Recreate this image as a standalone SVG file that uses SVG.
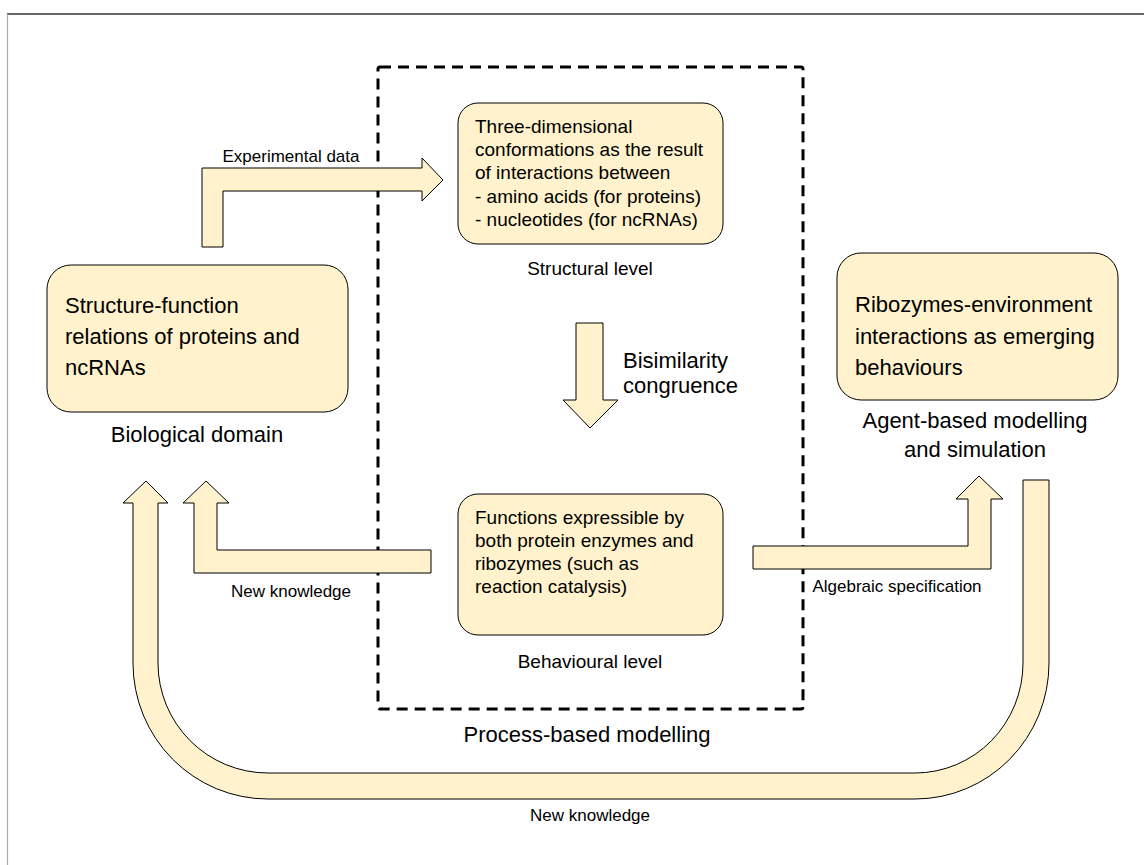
<svg xmlns="http://www.w3.org/2000/svg" width="1144" height="865" viewBox="0 0 1144 865">
  <style>
    .box { fill: #FFF2CC; stroke: #000; stroke-width: 1; }
    .arrow { fill: #FFF2CC; stroke: #000; stroke-width: 1; stroke-linejoin: miter; }
    .t { font-family: "Liberation Sans", Arial, sans-serif; fill: #000; }
    .big { font-size: 22px; }
    .mid { font-size: 19px; }
    .small { font-size: 17px; }
    .frame-top { stroke: #333; stroke-width: 1.5; }
    .frame-left { stroke: #aaa; stroke-width: 1.2; }
  </style>
  <rect x="0" y="0" width="1144" height="865" fill="#fff"/>
  <!-- page frame -->
  <line class="frame-top" x1="7" y1="14" x2="1144" y2="14"/>
  <line class="frame-left" x1="7.5" y1="14" x2="7.5" y2="865"/>

  <!-- process-based modelling container -->
  <g id="process-container">
    <rect x="378" y="67" width="425" height="642" rx="2" fill="none" stroke="#000" stroke-width="3" stroke-dasharray="11,7"/>
    <text class="t big" x="587" y="742" text-anchor="middle">Process-based modelling</text>
  </g>

  <g id="connectors">
    <!-- Experimental data -->
    <path class="arrow" d="M202,247 L202,168 L422,168 L422,158 L443,180 L422,201 L422,191 L223,191 L223,247 Z"/>
    <text class="t small" x="291" y="162" text-anchor="middle">Experimental data</text>
    <!-- Bisimilarity congruence -->
    <path class="arrow" d="M576,323 L603,323 L603,400 L618,400 L590,428 L563,400 L576,400 Z"/>
    <text class="t big" x="623" y="368">Bisimilarity</text>
    <text class="t big" x="623" y="393">congruence</text>
    <!-- New knowledge (short) -->
    <path class="arrow" d="M206,481 L229,503 L217,503 L217,550 L431,550 L431,573 L194,573 L194,503 L183,503 Z"/>
    <text class="t small" x="291" y="597" text-anchor="middle">New knowledge</text>
    <!-- Algebraic specification -->
    <path class="arrow" d="M753,546 L968,546 L968,499 L956,499 L979,476 L1003,499 L991,499 L991,569 L753,569 Z"/>
    <text class="t small" x="897" y="592" text-anchor="middle">Algebraic specification</text>
    <!-- New knowledge (loop) -->
    <path class="arrow" d="M1049,480 L1049,663 A134,136 0 0 1 915,799 L268,799 A135,136 0 0 1 133,663 L133,503 L123,503 L146,481 L168,503 L158,503 L158,663 A110,110 0 0 0 268,773 L915,773 A108,110 0 0 0 1023,663 L1023,480 Z"/>
    <text class="t small" x="590" y="821" text-anchor="middle">New knowledge</text>
  </g>

  <g id="biological-domain">
    <rect class="box" x="47" y="265" width="301" height="147" rx="24"/>
    <text class="t big" x="65" y="313">Structure-function</text>
    <text class="t big" x="65" y="344">relations of proteins and</text>
    <text class="t big" x="65" y="375">ncRNAs</text>
    <text class="t big" x="197" y="442" text-anchor="middle">Biological domain</text>
  </g>

  <g id="structural-level">
    <rect class="box" x="458" y="103" width="265" height="141" rx="20"/>
    <text class="t mid" x="475" y="133">Three-dimensional</text>
    <text class="t mid" x="475" y="156">conformations as the result</text>
    <text class="t mid" x="475" y="179">of interactions between</text>
    <text class="t mid" x="475" y="203">- amino acids (for proteins)</text>
    <text class="t mid" x="475" y="226">- nucleotides (for ncRNAs)</text>
    <text class="t mid" x="590" y="275" text-anchor="middle">Structural level</text>
  </g>

  <g id="behavioural-level">
    <rect class="box" x="458" y="494" width="265" height="141" rx="20"/>
    <text class="t mid" x="475" y="524">Functions expressible by</text>
    <text class="t mid" x="475" y="547">both protein enzymes and</text>
    <text class="t mid" x="475" y="570">ribozymes (such as</text>
    <text class="t mid" x="475" y="593">reaction catalysis)</text>
    <text class="t mid" x="590" y="668" text-anchor="middle">Behavioural level</text>
  </g>

  <g id="agent-based">
    <rect class="box" x="837" y="253" width="281" height="147" rx="24"/>
    <text class="t big" x="855" y="312">Ribozymes-environment</text>
    <text class="t big" x="855" y="344">interactions as emerging</text>
    <text class="t big" x="855" y="375">behaviours</text>
    <text class="t big" x="975" y="428" text-anchor="middle">Agent-based modelling</text>
    <text class="t big" x="975" y="457" text-anchor="middle">and simulation</text>
  </g>
</svg>
